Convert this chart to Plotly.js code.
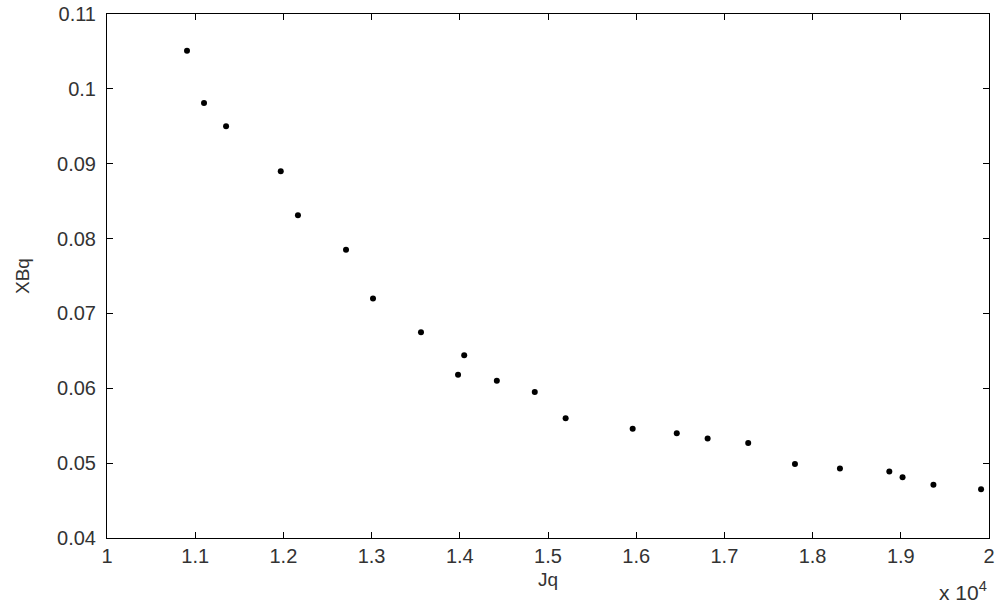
<!DOCTYPE html>
<html>
<head>
<meta charset="utf-8">
<script src="https://cdn.plot.ly/plotly-3.0.1.min.js"></script>
<style>
  html, body { margin: 0; padding: 0; background: #fff; }
  #chart { width: 1000px; height: 605px; }
</style>
</head>
<body>
<div id="chart"></div>
<script>
// Jq values (raw, axis shows them as x 10^4)
const jq = [10907, 11100, 11350, 11970, 12165, 12710, 13016, 13560, 14050, 13980,
            14420, 14850, 15200, 15960, 16460, 16810, 17270, 17800, 18310, 18870,
            19020, 19370, 19910];
// XBq values
const xbq = [0.1051, 0.0981, 0.0950, 0.0890, 0.0831, 0.0785, 0.0720, 0.0675, 0.0644, 0.0618,
             0.0610, 0.0595, 0.0560, 0.0546, 0.0540, 0.0533, 0.0527, 0.0499, 0.0493, 0.0489,
             0.0481, 0.0471, 0.0465];

const xTicks = [10000, 11000, 12000, 13000, 14000, 15000, 16000, 17000, 18000, 19000, 20000];
const xTickText = ['1', '1.1', '1.2', '1.3', '1.4', '1.5', '1.6', '1.7', '1.8', '1.9', '2'];
const yTicks = [0.04, 0.05, 0.06, 0.07, 0.08, 0.09, 0.1, 0.11];
const yTickText = ['0.04', '0.05', '0.06', '0.07', '0.08', '0.09', '0.1', '0.11'];

const fnt = 'Liberation Sans, Arial, sans-serif';

const trace = {
    x: jq,
    y: xbq,
    type: 'scatter',
    mode: 'markers',
    marker: { color: 'black', size: 6 },
    hoverinfo: 'x+y'
};

const axisStyle = {
    showgrid: false,
    zeroline: false,
    showline: true,
    linecolor: 'black',
    linewidth: 1,
    mirror: 'ticks',
    ticks: 'inside',
    ticklen: 6,
    tickcolor: 'black',
    tickfont: { family: fnt, size: 20, color: '#333' }
};

const layout = {
    width: 1000,
    height: 605,
    margin: { l: 107, r: 11, t: 14, b: 67 },
    paper_bgcolor: 'white',
    plot_bgcolor: 'white',
    showlegend: false,
    xaxis: Object.assign({}, axisStyle, {
        range: [10000, 20000],
        tickvals: xTicks,
        ticktext: xTickText,
        title: { text: 'Jq', font: { family: fnt, size: 19, color: '#333' }, standoff: 6 }
    }),
    yaxis: Object.assign({}, axisStyle, {
        range: [0.04, 0.11],
        tickvals: yTicks,
        ticktext: yTickText,
        ticklabelstandoff: 6,
        title: { text: 'XBq', font: { family: fnt, size: 19, color: '#333' }, standoff: 22 }
    }),
    annotations: [{
        text: 'x 10<sup>4</sup>',
        xref: 'paper', yref: 'paper',
        x: 1.0, y: 0,
        xanchor: 'right', yanchor: 'top',
        yshift: -38, xshift: 0,
        showarrow: false,
        font: { family: fnt, size: 21, color: '#333' }
    }]
};

Plotly.newPlot('chart', [trace], layout, { displayModeBar: false, staticPlot: true });
</script>
</body>
</html>
